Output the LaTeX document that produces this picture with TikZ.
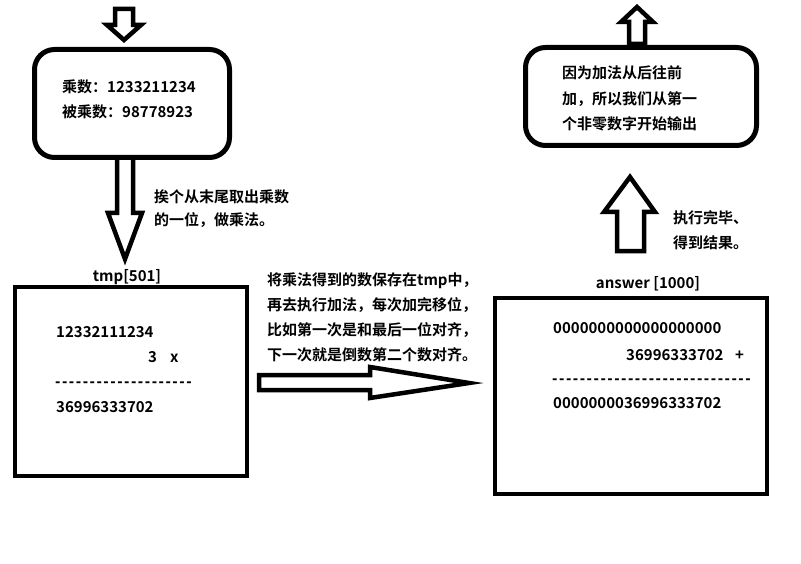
\documentclass[tikz,border=0pt]{standalone}
\usepackage{fontspec}
\setmainfont{Noto Sans CJK SC Bold}
\newfontfamily\dashfont{DejaVu Sans Bold}
\newcommand\hy{\makebox[6.9bp][l]{-}}
\begin{document}
\begin{tikzpicture}[x=1bp,y=-1bp,
  shape border/.style={draw=black,line width=4.5bp,line join=miter,fill=white},
  txt/.style={anchor=base west,inner sep=0pt,font=\fontsize{15bp}{18bp}\selectfont},
  dtxt/.style={anchor=base west,inner sep=0pt,font=\fontsize{13bp}{18bp}\dashfont},
  ctxt/.style={anchor=base,inner sep=0pt,font=\fontsize{15bp}{18bp}\selectfont}]
\useasboundingbox (0,0) rectangle (801,564);
\fill[white] (0,0) rectangle (801,564);

% top-left input arrow
\draw[shape border] (115,9) -- (133,9) -- (133,25) -- (141,25) -- (124,40) -- (107,25) -- (115,25) -- cycle;
% down arrow
\draw[shape border] (117,156) -- (133,156) -- (133,213) -- (142,213) -- (125,259) -- (108,213) -- (117,213) -- cycle;
% right arrow
\draw[shape border] (259,375) -- (370,375) -- (370,367) -- (469,383) -- (370,398) -- (370,390) -- (259,390) -- cycle;
% top-right output arrow
\draw[shape border] (629,44) -- (645,44) -- (645,22) -- (653,22) -- (637,7) -- (621,22) -- (629,22) -- cycle;
% up arrow
\draw[shape border] (617,251) -- (644,251) -- (644,212) -- (655,212) -- (630,177) -- (604,212) -- (617,212) -- cycle;

% input box
\draw[shape border,rounded corners=20bp,line width=5bp] (34.5,49.5) rectangle (229.5,157.5);
\node[txt] (in1) at (62,92.5) {乘数：1233211234};
\node[txt] (in2) at (62,117.5) {被乘数：98778923};

% note 1
\node[txt] (n1a) at (154,202.5) {挨个从末尾取出乘数};
\node[txt] (n1b) at (154,225.5) {的一位，做乘法。};

% tmp box
\node[ctxt] (tmplabel) at (127,281) {tmp[501]};
\draw[shape border,line width=4bp] (15,287) rectangle (247,476);
\node[txt] (t1) at (56,337.5) {12332111234};
\node[txt] (t2) at (148,362.5) {3\hspace{13bp}x};
\node[dtxt] (t3) at (55,386.5) {\hy\hy\hy\hy\hy\hy\hy\hy\hy\hy\hy\hy\hy\hy\hy\hy\hy\hy\hy\hy};
\node[txt] (t4) at (56,412.5) {36996333702};

% note 2
\node[txt] (n2a) at (267,285.5) {将乘法得到的数保存在tmp中，};
\node[txt] (n2b) at (267,310.5) {再去执行加法，每次加完移位，};
\node[txt] (n2c) at (267,335.5) {比如第一次是和最后一位对齐，};
\node[txt] (n2d) at (267,360.5) {下一次就是倒数第二个数对齐。};

% answer box
\node[ctxt] (anslabel) at (648,288) {answer [1000]};
\draw[shape border,line width=4.5bp] (495,298) rectangle (767,494);
\node[txt] (a1) at (553,333.5) {0000000000000000000};
\node[txt] (a2) at (626,360.5) {36996333702};
\node[txt] (a2p) at (735,360.5) {+};
\node[dtxt] (a3) at (552,383.5) {\hy\hy\hy\hy\hy\hy\hy\hy\hy\hy\hy\hy\hy\hy\hy\hy\hy\hy\hy\hy\hy\hy\hy\hy\hy\hy\hy\hy\hy};
\node[txt] (a4) at (553,408.5) {0000000036996333702};

% note 3
\node[txt] (n3a) at (673,223.5) {执行完毕、};
\node[txt] (n3b) at (673,248.5) {得到结果。};

% output box
\draw[shape border,rounded corners=20bp,line width=5bp] (525.5,47.5) rectangle (756.5,145.5);
\node[txt] (o1) at (562,78.5) {因为加法从后往前};
\node[txt] (o2) at (562,104.5) {加，所以我们从第一};
\node[txt] (o3) at (562,129.5) {个非零数字开始输出};
\end{tikzpicture}
\end{document}
